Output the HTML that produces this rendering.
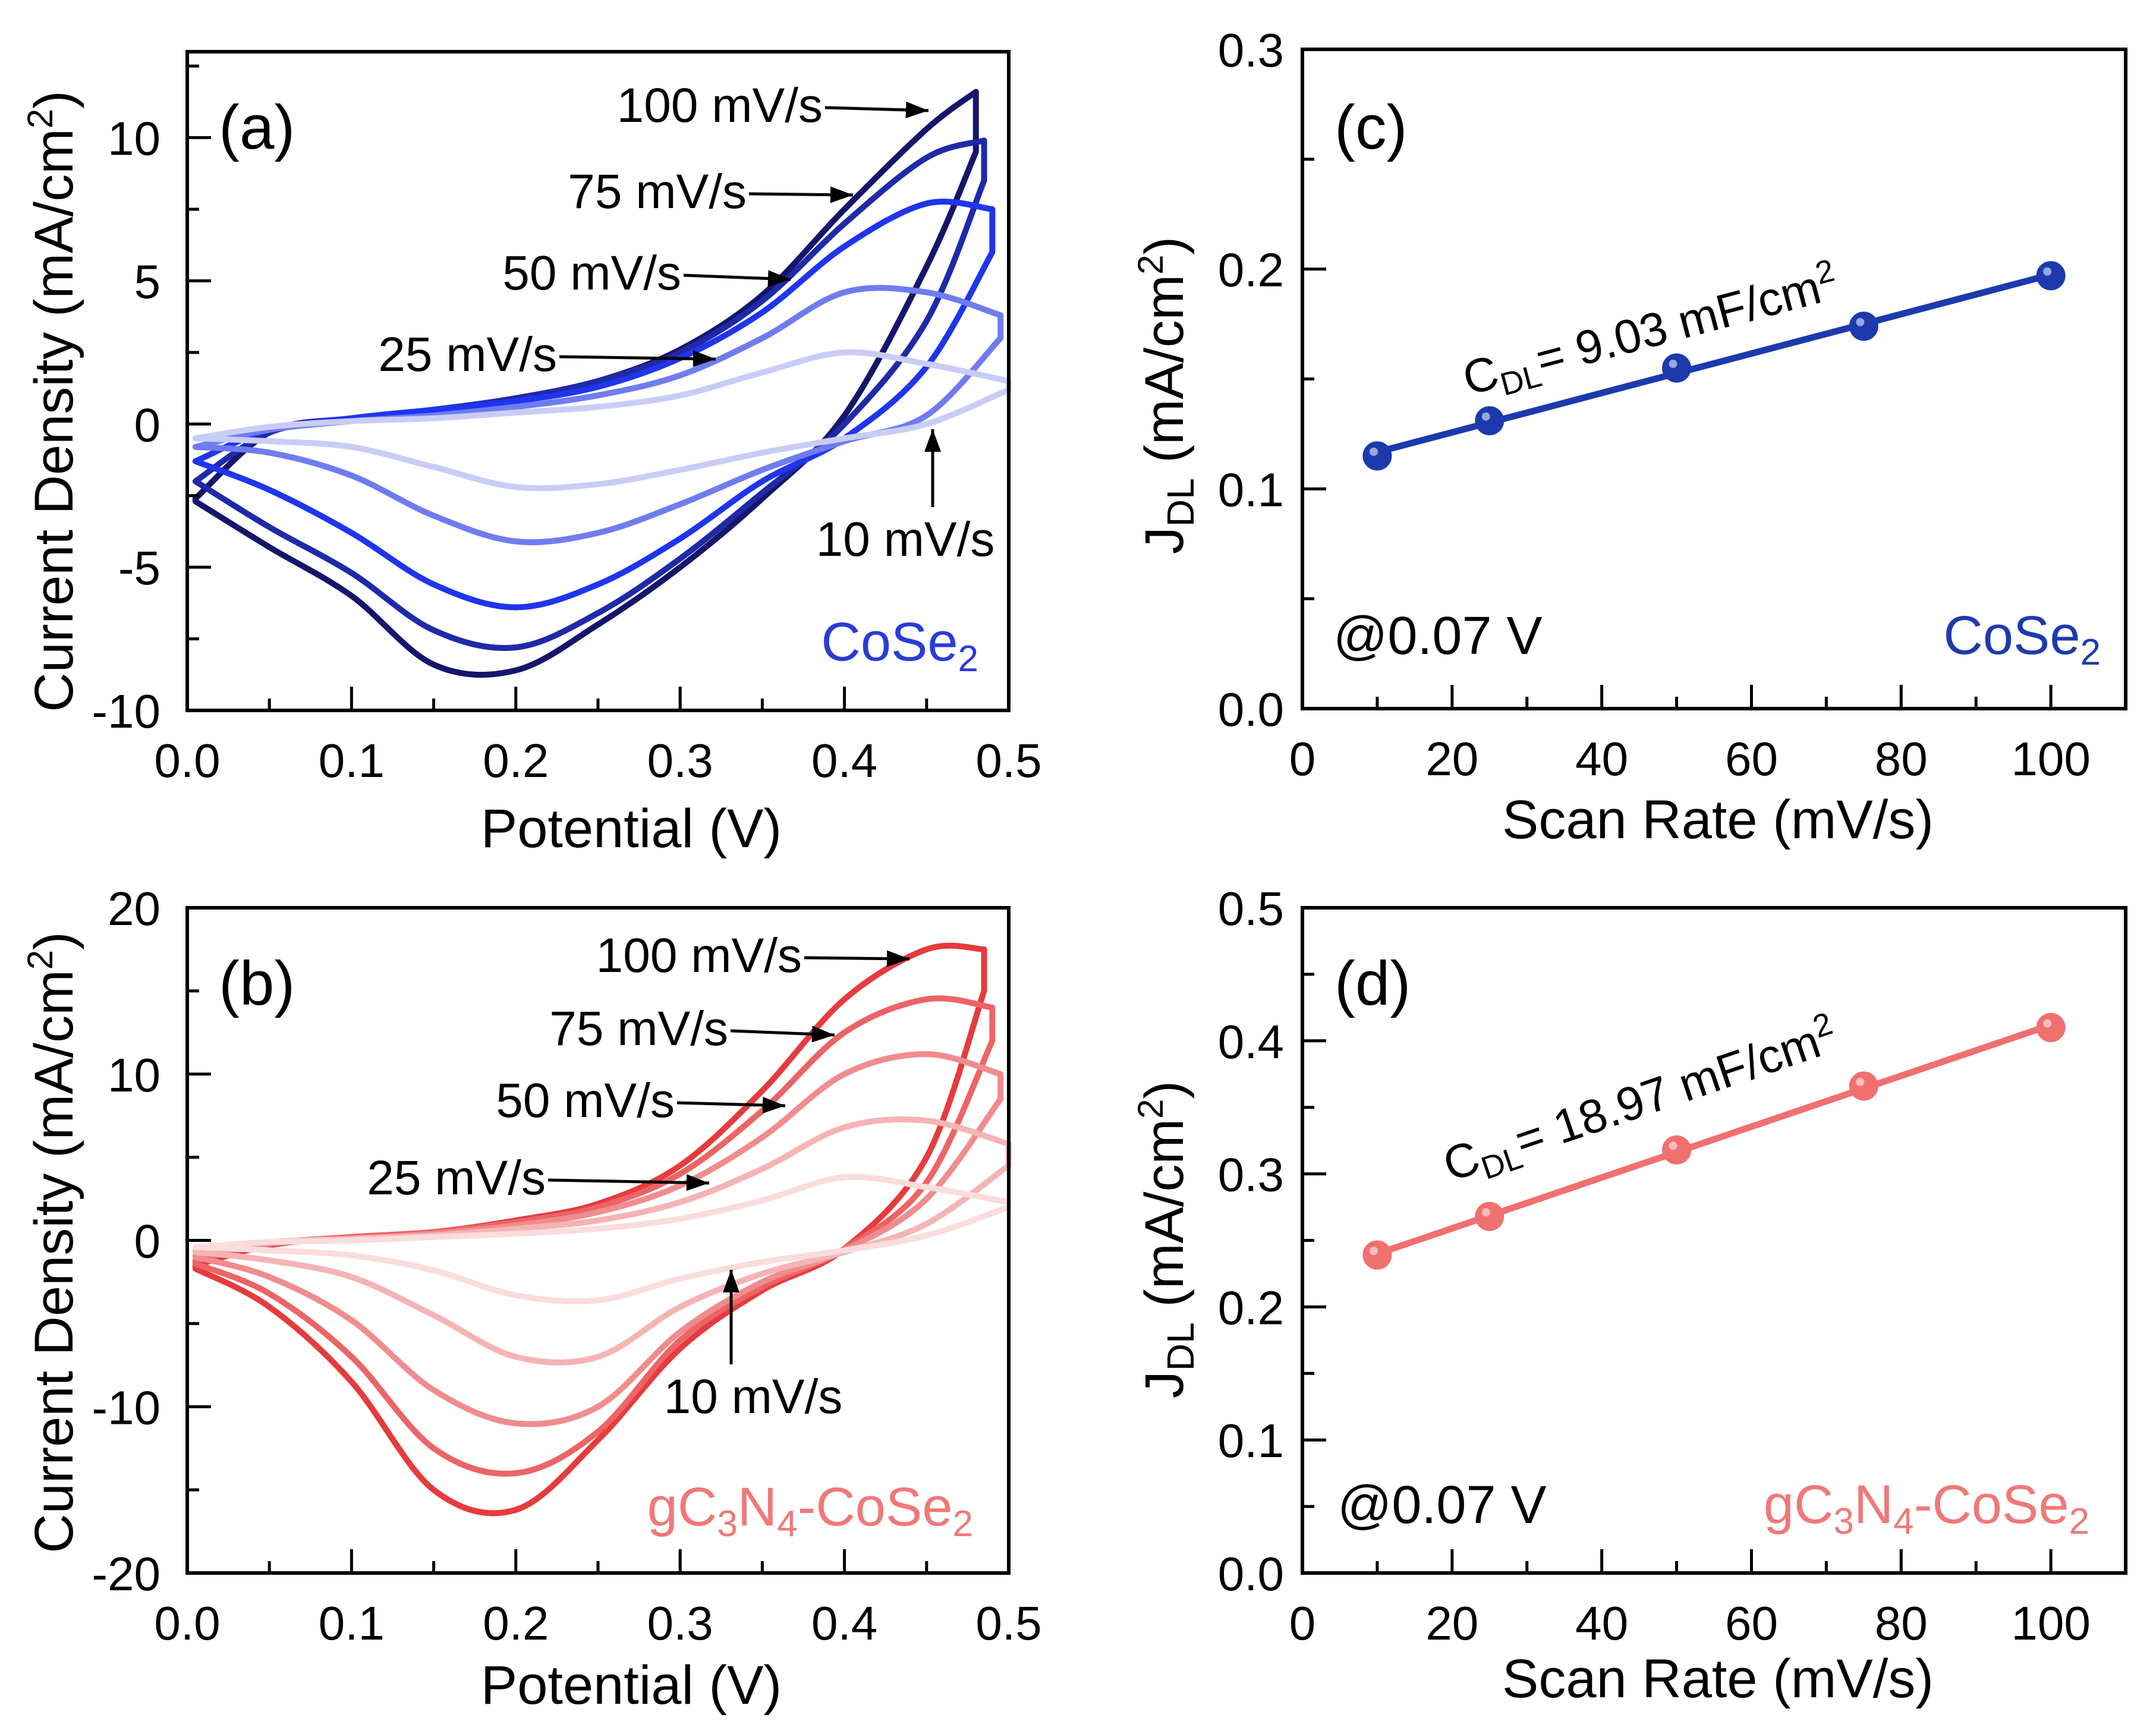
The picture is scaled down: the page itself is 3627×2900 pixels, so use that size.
<!DOCTYPE html>
<html><head><meta charset="utf-8">
<style>
html,body{margin:0;padding:0;background:#fff;}
svg{display:block;font-family:"Liberation Sans",Arial,sans-serif;}
</style></head>
<body>
<svg id="fig" width="3627" height="2900" viewBox="0 0 3627 2900" xmlns="http://www.w3.org/2000/svg"></svg>
<script>
// ---------- data ----------
const potGrid = [0.005,0.05,0.1,0.15,0.2,0.25,0.3,0.35,0.4,0.45];
const rateLabels = ["100 mV/s","75 mV/s","50 mV/s","25 mV/s","10 mV/s"];
// panel (a) CoSe2
const aVmax = [0.48,0.485,0.49,0.495,0.5];
const aFwd100 = [-2.6,-0.3,0.2,0.5,0.9,1.5,2.6,4.5,7.5,10.3,11.6];
const aFwd75  = [-2.0,-0.3,0.2,0.5,0.9,1.5,2.5,4.3,7.0,9.3,9.9];
const aFwd50  = [-1.3,-0.2,0.2,0.5,0.8,1.3,2.3,3.9,6.2,7.7,7.5];
const aFwd25  = [-0.8,-0.2,0.1,0.3,0.6,1.0,1.7,3.0,4.6,4.6,3.8];
const aFwd10  = [-0.5,-0.1,0.1,0.2,0.4,0.6,1.0,1.8,2.5,2.1,1.5];
const aRev100 = [-2.7,-4.3,-6.0,-8.4,-8.6,-7.0,-5.0,-2.6,0.3,5.5,9.5];
const aRev75  = [-2.0,-3.6,-5.2,-7.2,-7.8,-6.6,-4.7,-2.4,0.0,3.6,8.5];
const aRev50  = [-1.3,-2.3,-3.8,-5.6,-6.4,-5.6,-4.0,-2.0,-0.5,2.0,6.0];
const aRev25  = [-0.8,-1.0,-1.8,-3.2,-4.1,-3.8,-2.8,-1.6,-0.6,0.3,3.0];
const aRev10  = [-0.5,-0.6,-0.8,-1.5,-2.2,-2.1,-1.6,-1.0,-0.5,0.0,1.2];
// panel (b) gC3N4-CoSe2
const bVmax = [0.485,0.49,0.495,0.5,0.5];
const bFwd100 = [-1.5,-0.3,0.2,0.5,1.2,2.2,4.5,9.0,14.5,17.5,17.5];
const bFwd75  = [-1.2,-0.2,0.2,0.5,1.1,2.0,4.0,7.8,12.5,14.5,14.0];
const bFwd50  = [-0.9,-0.2,0.1,0.4,0.9,1.7,3.3,6.2,10.0,11.2,10.0];
const bFwd25  = [-0.6,-0.1,0.1,0.3,0.7,1.2,2.3,4.3,6.8,7.2,5.8];
const bFwd10  = [-0.4,-0.1,0.0,0.2,0.4,0.7,1.3,2.4,3.8,3.2,2.3];
const bRev100 = [-1.7,-4.0,-8.5,-15.0,-16.2,-12.0,-6.5,-3.0,-0.5,5.0,15.0];
const bRev75  = [-1.4,-3.2,-7.0,-12.5,-14.0,-11.5,-6.0,-2.8,-0.5,3.5,12.0];
const bRev50  = [-1.0,-2.2,-4.8,-9.0,-11.0,-10.0,-5.5,-2.5,-0.6,2.5,8.5];
const bRev25  = [-0.7,-1.2,-2.2,-4.5,-7.0,-7.0,-4.0,-2.0,-0.7,1.0,4.5];
const bRev10  = [-0.4,-0.6,-0.9,-1.8,-3.3,-3.6,-2.3,-1.3,-0.6,0.3,2.0];
// panels (c),(d)
const scanRates = [10,25,50,75,100];
const cJdl = [0.115,0.131,0.155,0.174,0.197];
const dJdl = [0.239,0.268,0.318,0.366,0.410];
const cvXTicks = [0,0.1,0.2,0.3,0.4,0.5];
const cvXTickLabels = ["0.0","0.1","0.2","0.3","0.4","0.5"];
const aYTicks = [-10,-5,0,5,10];
const bYTicks = [-20,-10,0,10,20];
const srXTicks = [0,20,40,60,80,100];
const cYTicks = [0,0.1,0.2,0.3];
const cYTickLabels = ["0.0","0.1","0.2","0.3"];
const dYTicks = [0,0.1,0.2,0.3,0.4,0.5];
const dYTickLabels = ["0.0","0.1","0.2","0.3","0.4","0.5"];

// ---------- helpers ----------
const NS="http://www.w3.org/2000/svg";
const svg=document.getElementById('fig');
function el(tag,attrs,parent){const e=document.createElementNS(NS,tag);for(const k in attrs)e.setAttribute(k,attrs[k]);(parent||svg).appendChild(e);return e;}
function txt(s,attrs,parent){const e=el('text',attrs,parent);e.textContent=s;return e;}
function scale(d0,d1,r0,r1){return v=>r0+(v-d0)*(r1-r0)/(d1-d0);}
function smooth(pts){
  let d=`M${pts[0][0]},${pts[0][1]}`;
  for(let i=0;i<pts.length-1;i++){
    const p0=pts[i-1]||pts[i],p1=pts[i],p2=pts[i+1],p3=pts[i+2]||p2;
    const c1=[p1[0]+(p2[0]-p0[0])/6,p1[1]+(p2[1]-p0[1])/6];
    const c2=[p2[0]-(p3[0]-p1[0])/6,p2[1]-(p3[1]-p1[1])/6];
    d+=` C${c1[0]},${c1[1]} ${c2[0]},${c2[1]} ${p2[0]},${p2[1]}`;
  }
  return d;
}
function frame(g,L,R,T,B,xTicks,xLabels,xMinor,yTicks,yLabels,yMinor,sx,sy,labelY,labelX){
  el('rect',{x:L,y:T,width:R-L,height:B-T,fill:'none',stroke:'#000','stroke-width':6},g);
  xTicks.forEach((v,i)=>{const x=sx(v);
    el('line',{x1:x,y1:B,x2:x,y2:B-40,stroke:'#000','stroke-width':5},g);
    const t=txt(xLabels[i],{x:x,y:labelY,'font-size':80,'text-anchor':'middle',fill:'#000'},g);
    
    });
  xMinor.forEach(v=>{const x=sx(v);el('line',{x1:x,y1:B,x2:x,y2:B-20,stroke:'#000','stroke-width':5},g);});
  yTicks.forEach((v,i)=>{const y=sy(v);
    el('line',{x1:L,y1:y,x2:L+40,y2:y,stroke:'#000','stroke-width':5},g);
    const t=txt(yLabels[i],{x:labelX,y:y+29,'font-size':80,'text-anchor':'end',fill:'#000'},g);
    
    });
  yMinor.forEach(v=>{const y=sy(v);el('line',{x1:L,y1:y,x2:L+20,y2:y,stroke:'#000','stroke-width':5},g);});
}
function arrow(g,x1,y1,x2,y2){
  el('line',{x1:x1,y1:y1,x2:x2,y2:y2,stroke:'#000','stroke-width':5},g);
  const a=Math.atan2(y2-y1,x2-x1),L=38,W=14;
  const bx=x2-L*Math.cos(a),by=y2-L*Math.sin(a);
  el('polygon',{points:`${x2},${y2} ${bx+W*Math.sin(a)},${by-W*Math.cos(a)} ${bx-W*Math.sin(a)},${by+W*Math.cos(a)}`,fill:'#000'},g);
}
function cvPanel(name,T,B,yMin,yMax,yTicks,yMinor,fwds,revs,vmaxs,colors){
  const g=el('g',{});
  
  
  const L=315,R=1697;
  const sx=scale(0,0.5,L,R), sy=scale(yMin,yMax,B,T);
  fwds.forEach((f,i)=>{
    const xs=potGrid.concat([vmaxs[i]]);
    const fp=xs.map((v,j)=>[sx(v),sy(f[j])]);
    const rp=xs.map((v,j)=>[sx(v),sy(revs[i][j])]).reverse();
    const d=smooth(fp)+` L${rp[0][0]},${rp[0][1]} `+smooth(rp).replace(/^M/,'L')+' Z';
    const p=el('path',{d:d,fill:'none',stroke:colors[i],'stroke-width':10,'stroke-linejoin':'round'},g);
    
    
  });
  const xMinor=[0.05,0.15,0.25,0.35,0.45];
  frame(g,L,R,T,B,cvXTicks,cvXTickLabels,xMinor,yTicks,yTicks.map(String),yMinor,sx,sy,B+112,270);
  return g;
}
// ---------- panel (a) ----------
const ga=cvPanel('panel-a-cv-cose2',87,1195,-10,13,aYTicks,[-7.5,-2.5,2.5,7.5,12.5],
  [aFwd100,aFwd75,aFwd50,aFwd25,aFwd10],[aRev100,aRev75,aRev50,aRev25,aRev10],aVmax,
  ['#15166b','#1f2aa8','#1f35ee','#6f7cf0','#c9cdf6']);
// ---------- panel (b) ----------
const gb=cvPanel('panel-b-cv-gc3n4-cose2',1527,2646,-20,20,bYTicks,[-15,-5,5,15],
  [bFwd100,bFwd75,bFwd50,bFwd25,bFwd10],[bRev100,bRev75,bRev50,bRev25,bRev10],bVmax,
  ['#e63b3d','#ec6466','#f08c8d','#f5b4b4','#f9dcdc']);

// annotations a
function ann(g,s,x,y,anchor,color,size){const t=txt(s,{x:x,y:y,'font-size':size||82,'text-anchor':anchor||'start',fill:color||'#000'},g);return t;}
let t;
t=ann(ga,'(a)',368,250,'start','#000',105);
[['100 mV/s',1384,205,1562,186],['75 mV/s',1256,350,1435,328],['50 mV/s',1146,487,1330,470],['25 mV/s',937,624,1204,604]].forEach(r=>{
  const tt=ann(ga,r[0],r[1],r[2],'end');
  
  
  arrow(ga,r[1]+4,r[2]-24,r[3],r[4]);});
t=ann(ga,'10 mV/s',1523,935,'middle');
arrow(ga,1569,853,1569,722);
t=txt('',{x:1646,y:1111,'font-size':92,'text-anchor':'end',fill:'#2a3bd8'},ga);
t.innerHTML='CoSe<tspan font-size="62" dy="18">2</tspan>';

t=txt('',{transform:'translate(122,675) rotate(-90)','font-size':92,'text-anchor':'middle',fill:'#000'},ga);
t.innerHTML='Current Density (mA/cm<tspan font-size="60" dy="-34">2</tspan><tspan dy="34">)</tspan>';

t=ann(ga,'Potential (V)',1062,1425,'middle','#000',92);

// annotations b
t=ann(gb,'(b)',368,1690,'start','#000',105);
[['100 mV/s',1349,1635,1530,1613],['75 mV/s',1225,1758,1404,1741],['50 mV/s',1135,1879,1321,1860],['25 mV/s',918,2009,1193,1990]].forEach(r=>{
  const tt=ann(gb,r[0],r[1],r[2],'end');
  
  
  arrow(gb,r[1]+4,r[2]-24,r[3],r[4]);});
t=ann(gb,'10 mV/s',1267,2377,'middle');
arrow(gb,1230,2295,1230,2136);
t=txt('',{x:1637,y:2566,'font-size':92,'text-anchor':'end',fill:'#f07878'},gb);
t.innerHTML='gC<tspan font-size="62" dy="18">3</tspan><tspan dy="-18">N</tspan><tspan font-size="62" dy="18">4</tspan><tspan dy="-18">-CoSe</tspan><tspan font-size="62" dy="18">2</tspan>';

t=txt('',{transform:'translate(122,2090) rotate(-90)','font-size':92,'text-anchor':'middle',fill:'#000'},gb);
t.innerHTML='Current Density (mA/cm<tspan font-size="60" dy="-34">2</tspan><tspan dy="34">)</tspan>';

t=ann(gb,'Potential (V)',1062,2866,'middle','#000',92);

// ---------- panels c,d ----------
function srPanel(name,T,B,yMax,yTicks,yLabels,yMinor,vals,color){
  const g=el('g',{});
  
  
  const L=2191,R=3576;
  const sx=scale(0,110,L,R), sy=scale(0,yMax,B,T);
  const n=vals.length;let mx=0,my=0;
  scanRates.forEach((x,i)=>{mx+=x/n;my+=vals[i]/n;});
  let num=0,den=0;scanRates.forEach((x,i)=>{num+=(x-mx)*(vals[i]-my);den+=(x-mx)*(x-mx);});
  const k=num/den,b0=my-k*mx;
  const x0=scanRates[0],x1=scanRates[n-1];
  const fit=el('line',{x1:sx(x0),y1:sy(k*x0+b0),x2:sx(x1),y2:sy(k*x1+b0),stroke:color,'stroke-width':11},g);
  
  
  scanRates.forEach((x,i)=>{
    const c=el('circle',{cx:sx(x),cy:sy(vals[i]),r:23,fill:color,stroke:color,'stroke-width':3},g);
    
    
    el('circle',{cx:sx(x)-6,cy:sy(vals[i])-7,r:7,fill:'#fff','fill-opacity':0.55},g);
  });
  frame(g,L,R,T,B,srXTicks,srXTicks.map(String),[10,30,50,70,90,110],yTicks,yLabels,yMinor,sx,sy,B+112,2160);
  return {g:g,ang:Math.atan2(sy(k*x1+b0)-sy(k*x0+b0),sx(x1)-sx(x0))*180/Math.PI};
}
const pc=srPanel('panel-c-cdl-cose2',83,1192,0.3,cYTicks,cYTickLabels,[0.05,0.15,0.25],cJdl,'#1d3aad');
const pd=srPanel('panel-d-cdl-gc3n4-cose2',1527,2646,0.5,dYTicks,dYTickLabels,[0.05,0.15,0.25,0.35,0.45],dJdl,'#f07070');
const gc=pc.g,gd=pd.g;
t=ann(gc,'(c)',2245,250,'start','#000',105);
t=ann(gc,'@0.07 V',2243,1100,'start','#000',90);
t=txt('',{x:3534,y:1100,'font-size':92,'text-anchor':'end',fill:'#1d3aad'},gc);
t.innerHTML='CoSe<tspan font-size="62" dy="18">2</tspan>';

t=txt('',{transform:`translate(2470,665) rotate(${pc.ang})`,'font-size':80,fill:'#000'},gc);
t.innerHTML='C<tspan font-size="54" dy="16">DL</tspan><tspan dy="-16">= 9.03 mF/cm</tspan><tspan font-size="54" dy="-30">2</tspan>';

t=txt('',{transform:'translate(1990,665) rotate(-90)','font-size':92,'text-anchor':'middle',fill:'#000'},gc);
t.innerHTML='J<tspan font-size="64" dy="18">DL</tspan><tspan dy="-18"> (mA/cm</tspan><tspan font-size="60" dy="-34">2</tspan><tspan dy="34">)</tspan>';

t=ann(gc,'Scan Rate (mV/s)',2890,1410,'middle','#000',92);

t=ann(gd,'(d)',2245,1690,'start','#000',105);
t=ann(gd,'@0.07 V',2250,2562,'start','#000',90);
t=txt('',{x:3515,y:2562,'font-size':92,'text-anchor':'end',fill:'#f07878'},gd);
t.innerHTML='gC<tspan font-size="62" dy="18">3</tspan><tspan dy="-18">N</tspan><tspan font-size="62" dy="18">4</tspan><tspan dy="-18">-CoSe</tspan><tspan font-size="62" dy="18">2</tspan>';

t=txt('',{transform:`translate(2440,1988) rotate(${pd.ang})`,'font-size':80,fill:'#000'},gd);
t.innerHTML='C<tspan font-size="54" dy="16">DL</tspan><tspan dy="-16">= 18.97 mF/cm</tspan><tspan font-size="54" dy="-30">2</tspan>';

t=txt('',{transform:'translate(1990,2085) rotate(-90)','font-size':92,'text-anchor':'middle',fill:'#000'},gd);
t.innerHTML='J<tspan font-size="64" dy="18">DL</tspan><tspan dy="-18"> (mA/cm</tspan><tspan font-size="60" dy="-34">2</tspan><tspan dy="34">)</tspan>';

t=ann(gd,'Scan Rate (mV/s)',2890,2855,'middle','#000',92);
</script>
</body></html>
